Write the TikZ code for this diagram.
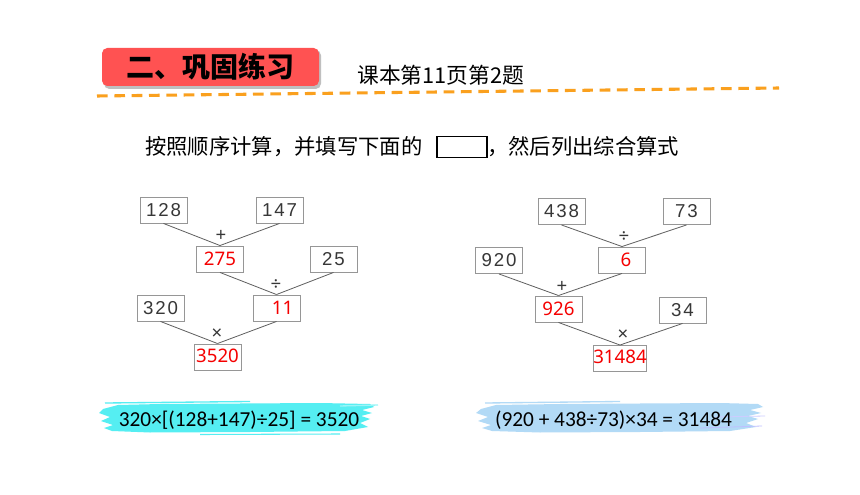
\documentclass[tikz,border=0pt]{standalone}
\usepackage{fontspec}
\setmainfont{Noto Sans CJK SC}
\newfontfamily\cjk{Noto Sans CJK SC}
\newfontfamily\numf[LetterSpace=10]{Liberation Sans}
\newfontfamily\redf{Noto Sans}
\newfontfamily\frm{Carlito}
\usetikzlibrary{calc}
\definecolor{hdrred}{RGB}{255,82,82}
\definecolor{dashor}{RGB}{250,160,30}
\definecolor{boxgray}{RGB}{150,150,150}
\definecolor{numgray}{RGB}{55,55,55}
\definecolor{ansred}{RGB}{245,0,0}
\definecolor{brushcyan}{RGB}{85,238,242}
\definecolor{brushblue}{RGB}{178,218,246}
\tikzset{
  numbox/.style={draw=boxgray, line width=0.7pt, minimum width=35.25pt, minimum height=19.5pt, inner sep=0pt, text=numgray, font=\numf\fontsize{14pt}{16pt}\selectfont},
  ansbox/.style={numbox, text=ansred, font=\redf\fontsize{14pt}{16pt}\selectfont},
  link/.style={draw=numgray!80, line width=0.6pt},
  opnode/.style={text=numgray, inner sep=0pt, font=\redf\fontsize{14pt}{16pt}\selectfont},
  formula/.style={inner sep=0pt, text=black, font=\frm\fontsize{16pt}{18pt}\selectfont},
}
\begin{document}
\begin{tikzpicture}[x=0.75pt, y=-0.75pt]
\useasboundingbox (0,0) rectangle (860,495);
\fill[white] (0,0) rectangle (860,495);
% header
\fill[black!25, rounded corners=4pt] (104,50) rectangle (321,89);
\node[fill=hdrred, rounded corners=4pt, minimum width=162.75pt, minimum height=28.5pt, inner sep=0pt] (hdr) at (210.5,67) {};
\node[font=\cjk\bfseries\fontsize{21pt}{23pt}\selectfont, text=black] (hdrtxt) at (hdr.center) {二、巩固练习};
\node[anchor=west, inner sep=0pt, font=\cjk\fontsize{16.3pt}{18pt}\selectfont] (sub) at (357,75) {课本第11页第2题};
\coordinate (dl) at (97,96);
\coordinate (dr) at (779,88);
\draw[dashor, line width=2.3pt, dash pattern=on 8pt off 5pt] (dl) -- (dr);
% instruction
\node[anchor=west, inner sep=0pt, font=\cjk\fontsize{16pt}{18pt}\selectfont] (ins1) at (145,147) {按照顺序计算，并填写下面的};
\node[draw=black, line width=1pt, minimum width=37.5pt, minimum height=15.5pt, inner sep=0pt] (blank) at (462,147) {};
\node[anchor=west, inner sep=0pt, font=\cjk\fontsize{16pt}{18pt}\selectfont] (ins2) at (487,147) {，然后列出综合算式};
% left tree
\node[numbox] (a128) at (163.5,210) {128};
\node[numbox] (a147) at (279.5,210) {147};
\node[ansbox] (a275) at (220,259) {275};
\node[numbox] (a25) at (333.5,259) {25};
\node[ansbox] (a11) at (276.5,308) {\hspace{9pt}11};
\node[numbox] (a320) at (160.5,308) {320};
\node[ansbox] (a3520) at (217.5,357) {\raisebox{2pt}{3520}};
\draw[link] (a128.south) -- (a275.north);
\draw[link] (a147.south) -- (a275.north);
\draw[link] (a275.south) -- (a11.north);
\draw[link] (a25.south) -- (a11.north);
\draw[link] (a320.south) -- (a3520.north);
\draw[link] (a11.south) -- (a3520.north);
\node[opnode] (op1) at (221,236) {+};
\node[opnode] (op2) at (276,285) {÷};
\node[opnode] (op3) at (217,334) {×};
% right tree
\node[numbox] (b438) at (561.5,211.5) {438};
\node[numbox] (b73) at (686.5,211.5) {73};
\node[ansbox] (b6) at (622,260) {\hspace{6pt}6};
\node[numbox] (b920) at (499,260.5) {920};
\node[ansbox] (b926) at (558.5,309) {926};
\node[numbox] (b34) at (682.5,310) {34};
\node[ansbox] (b31484) at (620,358.5) {\raisebox{2pt}{31484}};
\draw[link] (b438.south) -- (b6.north);
\draw[link] (b73.south) -- (b6.north);
\draw[link] (b920.south) -- (b926.north);
\draw[link] (b6.south) -- (b926.north);
\draw[link] (b926.south) -- (b31484.north);
\draw[link] (b34.south) -- (b31484.north);
\node[opnode] (op4) at (624,237) {÷};
\node[opnode] (op5) at (562,287) {+};
\node[opnode] (op6) at (623,335) {×};
% brushes
\fill[brushcyan] (103,409) -- (118,405) -- (160,404) -- (240,403.5) -- (320,403) -- (370,404) -- (374,407) -- (362,410) -- (372,413) -- (361,416) -- (370,419) -- (360,423) -- (368,427) -- (345,431) -- (250,432) -- (150,432.5) -- (112,431) -- (104,428) -- (113,425) -- (101,421) -- (110,417) -- (99,413) -- cycle;
\draw[brushcyan, line width=1pt] (105,403) -- (250,401.5);
\draw[brushcyan, line width=0.8pt] (200,434.5) -- (340,434);
\draw[brushcyan!60, line width=1pt] (340,406) -- (378,405);
\fill[brushblue] (481,409) -- (496,405) -- (560,404) -- (640,403.5) -- (720,403) -- (758,404) -- (763,407) -- (750,410) -- (761,413) -- (748,416) -- (758,419) -- (746,423) -- (756,427) -- (730,431) -- (640,432) -- (540,432.5) -- (492,431) -- (482,428) -- (491,425) -- (478,421) -- (488,417) -- (476,413) -- cycle;
\draw[brushblue, line width=1pt] (485,403) -- (620,401.5);
\draw[blue!25, line width=0.6pt] (700,428) -- (762,426);
\draw[blue!20, line width=0.6pt] (715,417) -- (765,416);
\node[formula] (f1) at (239,420) {320×[(128+147)÷25] = 3520};
\node[formula] (f2) at (613.5,420) {(920 + 438÷73)×34 = 31484};
\end{tikzpicture}
\end{document}
